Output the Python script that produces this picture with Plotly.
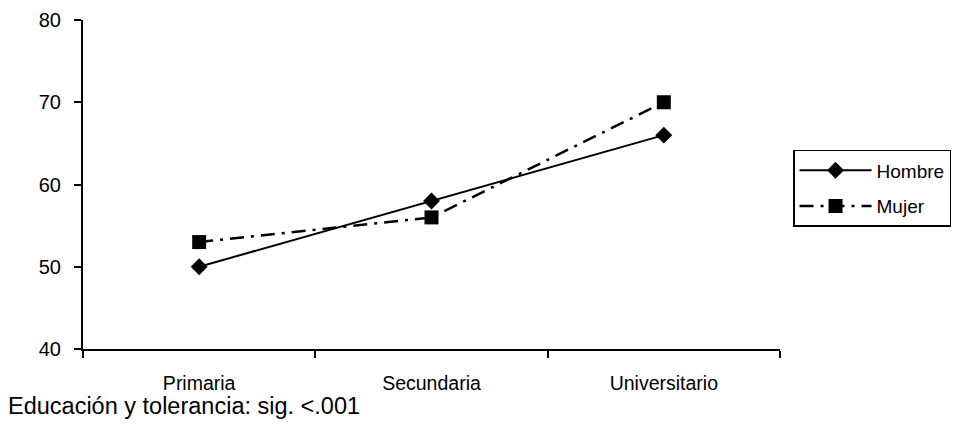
import plotly.graph_objects as go

categories = ["Primaria", "Secundaria", "Universitario"]
hombre = [50, 58, 66]
mujer = [53, 56, 70]
y_ticks = [40, 50, 60, 70, 80]
title_text = "Educación y tolerancia: sig. <.001"

FONT = "Liberation Sans, Arial, Helvetica, sans-serif"

fig = go.Figure()
fig.add_trace(go.Scatter(
    x=categories, y=hombre, name="Hombre", mode="lines+markers",
    line=dict(color="black", width=2),
    marker=dict(symbol="diamond", size=13, color="black"),
    legendgroup="h",
))
fig.add_trace(go.Scatter(
    x=categories, y=mujer, name="Mujer", mode="lines+markers",
    line=dict(color="black", width=2.5, dash="14px,7px,3px,7px"),
    marker=dict(symbol="square", size=14, color="black"),
    legendgroup="m",
))

fig.update_layout(
    width=953, height=420,
    margin=dict(l=75, r=181, t=12, b=79, autoexpand=False),
    paper_bgcolor="white", plot_bgcolor="white",
    font=dict(family=FONT, size=14, color="black"),
    showlegend=True,
    legend=dict(
        x=1.0187, y=0.605, xanchor="left", yanchor="top",
        bordercolor="black", borderwidth=1.5, bgcolor="white",
        font=dict(size=19, family=FONT),
        tracegroupgap=8, itemwidth=72,
    ),
    title=dict(
        text=title_text, x=0.0, xref="container", xanchor="left",
        y=0.052, yref="container", yanchor="middle",
        font=dict(size=23.5, family=FONT, color="black"),
    ),
    xaxis=dict(
        type="category", showgrid=False, zeroline=False,
        showline=True, linecolor="black", linewidth=2,
        ticks="outside", tickson="boundaries", ticklen=7, tickwidth=1.5,
        tickcolor="black", tickfont=dict(size=19.5),
        ticklabelstandoff=16,
        range=[-0.5, 2.5],
    ),
    yaxis=dict(
        range=[40, 80], tickvals=y_ticks, showgrid=False, zeroline=False,
        showline=True, linecolor="black", linewidth=2,
        ticks="outside", ticklen=7, tickwidth=1.5, tickcolor="black",
        tickfont=dict(size=20), ticklabelstandoff=9,
    ),
)

fig.write_html("out.html")
